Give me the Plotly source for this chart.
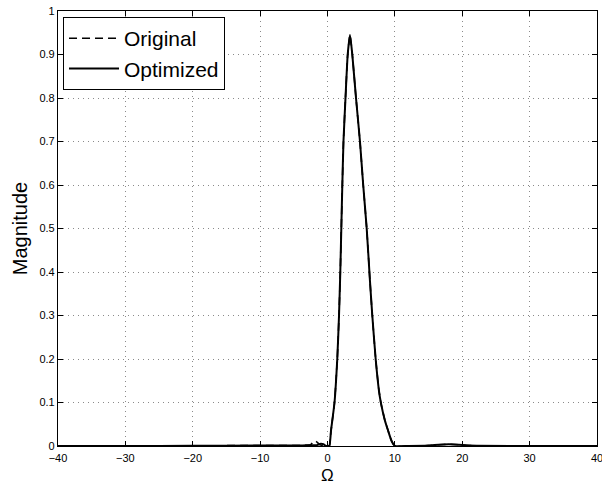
import plotly.graph_objects as go

# Optimized response samples (Omega, magnitude)
opt_x = [-40, -30, -20, -10, -4, -2.5, -1.6, -1.0, -0.6, -0.3, 0.0, 0.27, 0.52, 1.04, 1.45,
         1.71, 1.90, 2.05, 2.20, 2.37, 2.67, 3.0, 3.34, 3.68, 4.23, 4.82, 5.30, 5.82, 6.30,
         6.65, 7.15, 7.64, 7.94, 8.5, 9.0, 9.5, 10.0, 12, 15, 16.5, 18, 19.5, 21, 30, 40]
opt_y = [0.0, 0.0, 0.0005, 0.001, 0.001, 0.002, 0.002, 0.005, 0.004, 0.001, 0.0, 0.0, 0.035, 0.10, 0.20,
         0.30, 0.40, 0.50, 0.60, 0.70, 0.80, 0.90, 0.945, 0.90, 0.80, 0.70, 0.60, 0.50, 0.38,
         0.30, 0.20, 0.127, 0.098, 0.06, 0.035, 0.012, 0.0, 0.0, 0.001, 0.003, 0.004, 0.003, 0.001, 0.0, 0.0]

# Original response samples
orig_x = [-40, -30, -20, -10, -4, -2.5, -2.1, -1.8, -1.5, -1.0, -0.5, 0.0, 0.27, 0.52, 1.04, 1.45,
          1.71, 1.90, 2.05, 2.20, 2.37, 2.67, 3.0, 3.34, 3.68, 4.23, 4.82, 5.30, 5.82, 6.30,
          6.65, 7.15, 7.64, 7.94, 8.5, 9.0, 9.5, 10.0, 12, 15, 16.5, 18, 19.5, 21, 30, 40]
orig_y = [0.0, 0.0, 0.0005, 0.001, 0.001, 0.003, 0.010, 0.012, 0.008, 0.002, 0.001, 0.0, 0.0, 0.035, 0.10, 0.20,
          0.30, 0.40, 0.50, 0.60, 0.70, 0.80, 0.90, 0.945, 0.90, 0.80, 0.70, 0.60, 0.50, 0.38,
          0.30, 0.20, 0.127, 0.098, 0.06, 0.035, 0.012, 0.0, 0.0, 0.001, 0.003, 0.004, 0.003, 0.001, 0.0, 0.0]

x_ticks = [-40, -30, -20, -10, 0, 10, 20, 30, 40]
x_labels = ["\u221240", "\u221230", "\u221220", "\u221210", "0", "10", "20", "30", "40"]
y_ticks = [0, 0.1, 0.2, 0.3, 0.4, 0.5, 0.6, 0.7, 0.8, 0.9, 1]
y_labels = ["0", "0.1", "0.2", "0.3", "0.4", "0.5", "0.6", "0.7", "0.8", "0.9", "1"]

font = "Liberation Sans, Arial, Helvetica, sans-serif"

fig = go.Figure()
fig.add_trace(go.Scatter(x=orig_x, y=orig_y, mode="lines", name="Original",
                         line=dict(color="black", width=1.6, dash="8px,5px", shape="spline", smoothing=0.5)))
fig.add_trace(go.Scatter(x=opt_x, y=opt_y, mode="lines", name="Optimized",
                         line=dict(color="black", width=2, shape="spline", smoothing=0.5)))

axis_common = dict(showline=True, linecolor="black", linewidth=1.2, mirror="ticks",
                   ticks="inside", ticklen=5, tickcolor="black", tickwidth=1,
                   showgrid=True, gridcolor="#8a8a8a", griddash="1px,4px", gridwidth=1,
                   zeroline=False, ticklabeloverflow="allow", automargin=False,
                   tickfont=dict(family=font, size=11, color="black"))

fig.update_layout(
    width=602, height=484,
    margin=dict(l=58, r=5, t=11, b=38),
    paper_bgcolor="white", plot_bgcolor="white",
    font=dict(family=font, color="black"),
    xaxis=dict(range=[-40, 40], tickvals=x_ticks, ticktext=x_labels, ticklabelstandoff=2,
               **axis_common),
    yaxis=dict(range=[0, 1], tickvals=y_ticks, ticktext=y_labels,
               title=dict(text="Magnitude", font=dict(family=font, size=20), standoff=6),
               **axis_common),
    legend=dict(x=0.0093, y=0.986, xanchor="left", yanchor="top",
                bgcolor="white", bordercolor="black", borderwidth=1,
                font=dict(family=font, size=21), tracegroupgap=0, itemwidth=50),
    showlegend=True,
    annotations=[dict(text="\u03a9", xref="paper", yref="paper", x=0.5, y=-0.068,
                      xanchor="center", yanchor="middle", showarrow=False,
                      font=dict(family=font, size=17, color="black"))],
)

fig.write_html("out.html")
